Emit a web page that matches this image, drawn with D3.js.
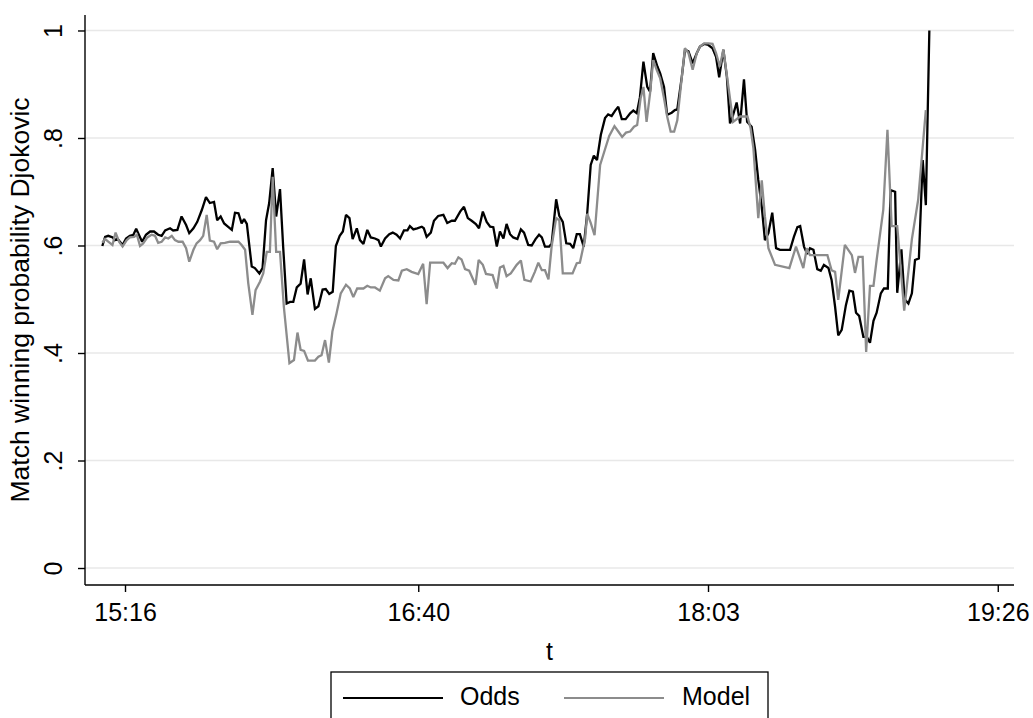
<!DOCTYPE html>
<html>
<head>
<meta charset="utf-8">
<script src="https://cdn.jsdelivr.net/npm/d3@7/dist/d3.min.js"></script>
<style>
  html, body { margin: 0; padding: 0; background: #fff; }
  svg { display: block; font-family: "Liberation Sans", Arial, Helvetica, sans-serif; }
</style>
</head>
<body>
<svg id="chart" width="1033" height="718"></svg>
<script>
// Time in minutes after 15:00, value = match winning probability
const odds = [[9.5,.599],[10.3,.616],[11.2,.618],[12.5,.615],[13.1,.610],[13.8,.613],[15.3,.601],[16.3,.613],[17.4,.618],[18.4,.620],[19.2,.631],[20.1,.618],[20.9,.607],[22.0,.620],[23.2,.626],[24.3,.626],[25.5,.620],[26.5,.618],[27.5,.628],[28.9,.632],[29.8,.628],[31.0,.629],[32.2,.654],[33.5,.638],[34.4,.623],[35.6,.632],[36.7,.644],[38.0,.666],[39.2,.690],[40.3,.679],[41.5,.681],[42.4,.647],[43.4,.654],[44.4,.641],[45.3,.636],[46.6,.629],[47.5,.661],[48.5,.660],[49.4,.641],[50.1,.649],[50.9,.640],[52.3,.561],[53.2,.558],[54.5,.548],[55.4,.558],[56.4,.647],[57.3,.679],[58.3,.744],[59.3,.654],[60.4,.705],[61.3,.598],[62.3,.492],[63.3,.495],[64.2,.495],[65.2,.522],[66.3,.529],[67.3,.574],[68.3,.509],[69.2,.539],[70.4,.482],[71.4,.487],[72.6,.518],[73.5,.519],[74.5,.510],[75.5,.514],[76.4,.599],[77.5,.618],[78.4,.626],[79.3,.657],[80.3,.651],[81.2,.612],[82.4,.632],[83.3,.610],[84.3,.603],[85.4,.629],[86.4,.615],[87.6,.613],[88.6,.610],[89.3,.598],[90.5,.613],[91.7,.621],[92.7,.624],[93.8,.620],[94.8,.613],[95.9,.628],[96.9,.628],[97.6,.636],[98.6,.630],[99.7,.632],[101.0,.635],[101.6,.632],[102.4,.616],[103.6,.624],[104.5,.646],[105.7,.655],[107.2,.657],[108.3,.642],[109.6,.646],[110.5,.646],[112.0,.663],[113.1,.672],[114.2,.651],[115.3,.646],[116.5,.640],[117.4,.632],[118.5,.663],[119.6,.644],[120.6,.635],[121.5,.634],[122.5,.598],[123.4,.626],[124.4,.613],[125.3,.640],[126.3,.621],[127.2,.615],[128.4,.612],[129.4,.630],[130.3,.624],[131.5,.601],[132.5,.600],[133.6,.612],[134.6,.620],[135.4,.615],[136.3,.598],[137.5,.598],[138.2,.603],[139.5,.686],[140.4,.655],[141.4,.644],[142.4,.604],[143.5,.603],[144.4,.595],[145.4,.621],[146.3,.621],[147.4,.598],[148.4,.660],[149.4,.750],[150.3,.767],[151.2,.759],[152.3,.806],[153.5,.837],[154.4,.844],[155.4,.841],[156.4,.851],[157.3,.858],[158.3,.835],[159.4,.835],[160.7,.846],[161.6,.851],[162.6,.846],[163.5,.876],[164.5,.942],[165.6,.895],[166.4,.886],[167.3,.958],[168.5,.933],[169.3,.920],[170.4,.895],[171.3,.843],[172.6,.847],[173.5,.852],[174.2,.853],[175.5,.914],[176.4,.964],[177.4,.961],[178.6,.939],[179.8,.958],[180.7,.970],[181.9,.975],[183.1,.973],[184.3,.967],[185.3,.951],[186.2,.913],[187.4,.964],[188.4,.914],[189.3,.827],[190.2,.843],[191.2,.866],[192.2,.827],[193.3,.909],[194.2,.830],[195.5,.821],[196.5,.778],[197.4,.722],[198.4,.672],[199.3,.610],[200.3,.623],[201.4,.661],[202.5,.595],[203.6,.592],[205.1,.592],[206.5,.592],[207.6,.616],[208.6,.634],[209.4,.636],[210.5,.598],[211.4,.584],[212.2,.595],[213.2,.592],[214.3,.556],[215.3,.553],[216.2,.564],[217.5,.558],[218.4,.536],[219.4,.486],[220.3,.433],[221.3,.443],[222.5,.489],[223.5,.516],[224.5,.514],[225.4,.475],[226.3,.469],[227.5,.430],[228.5,.430],[229.4,.419],[230.4,.460],[231.3,.475],[232.5,.511],[233.4,.520],[234.5,.520],[235.3,.703],[236.6,.700],[237.2,.512],[238.4,.593],[239.3,.500],[240.4,.492],[241.4,.511],[242.3,.573],[243.4,.576],[244.5,.759],[245.4,.675],[246.4,1.0]];

const model = [[9.5,.605],[10.3,.612],[11.2,.607],[12.4,.601],[13.3,.624],[14.3,.607],[15.3,.598],[16.5,.610],[17.4,.615],[18.6,.616],[19.4,.620],[20.3,.599],[21.2,.604],[22.4,.615],[23.6,.620],[24.6,.618],[25.5,.605],[26.5,.607],[27.5,.615],[28.4,.613],[29.4,.618],[30.3,.610],[31.3,.607],[32.5,.607],[33.5,.595],[34.4,.570],[35.6,.592],[36.5,.604],[37.5,.610],[38.4,.618],[39.4,.657],[40.3,.609],[41.5,.607],[42.4,.593],[43.4,.604],[44.6,.605],[46.1,.607],[48.5,.607],[49.4,.601],[50.4,.592],[51.3,.530],[52.5,.471],[53.4,.517],[54.7,.533],[55.6,.548],[56.6,.588],[57.5,.588],[58.3,.728],[59.3,.588],[60.4,.588],[61.5,.486],[63.1,.381],[64.4,.387],[65.4,.438],[66.3,.406],[67.3,.404],[68.4,.386],[70.4,.386],[71.4,.393],[72.3,.396],[73.3,.424],[74.4,.382],[75.4,.440],[76.6,.474],[77.8,.511],[79.3,.527],[80.4,.520],[81.4,.504],[82.5,.520],[84.3,.520],[85.4,.525],[86.4,.522],[87.6,.522],[89.0,.516],[90.5,.539],[91.4,.543],[92.9,.536],[94.3,.535],[95.3,.553],[96.7,.556],[98.1,.551],[100.0,.547],[101.4,.566],[102.4,.491],[103.4,.568],[107.2,.568],[108.4,.558],[109.6,.567],[110.5,.566],[111.5,.578],[112.4,.574],[113.4,.556],[114.6,.553],[116.4,.527],[117.3,.573],[118.5,.564],[119.4,.547],[121.3,.545],[122.5,.520],[123.4,.559],[124.4,.562],[125.3,.543],[126.5,.548],[128.2,.564],[129.4,.572],[130.4,.536],[132.2,.533],[133.4,.551],[134.4,.568],[135.4,.554],[136.3,.554],[137.3,.537],[138.2,.598],[139.5,.651],[140.4,.647],[141.4,.548],[144.2,.548],[145.4,.567],[146.3,.568],[147.8,.613],[148.4,.659],[149.4,.642],[150.5,.619],[152.1,.750],[153.5,.779],[154.7,.804],[156.2,.822],[157.3,.812],[158.4,.802],[159.5,.810],[160.7,.812],[161.8,.821],[162.7,.824],[163.7,.874],[164.5,.895],[165.4,.830],[166.4,.883],[167.3,.945],[168.3,.927],[169.3,.911],[170.4,.874],[171.3,.840],[172.3,.812],[173.3,.812],[174.2,.833],[175.2,.895],[176.4,.967],[177.4,.958],[178.6,.927],[179.8,.958],[180.7,.970],[181.9,.976],[183.1,.976],[184.3,.975],[185.3,.958],[186.4,.933],[187.4,.965],[188.4,.917],[190.2,.830],[192.2,.840],[194.3,.840],[195.2,.818],[196.0,.781],[197.4,.651],[198.4,.721],[199.3,.654],[200.3,.595],[202.2,.564],[206.3,.558],[208.2,.598],[210.3,.558],[211.3,.595],[212.2,.582],[217.2,.582],[218.4,.554],[219.4,.551],[220.3,.499],[222.2,.601],[224.2,.582],[225.1,.549],[226.1,.579],[227.3,.579],[228.3,.402],[229.4,.525],[230.4,.525],[231.3,.573],[233.2,.666],[234.4,.815],[235.6,.636],[237.2,.636],[239.2,.479],[241.4,.612],[243.2,.685],[245.4,.852]];

const xTicks = [16, 100, 183, 266];          // minutes after 15:00
const yTicks = [0, 0.2, 0.4, 0.6, 0.8, 1];
const yTickLabels = ["0", ".2", ".4", ".6", ".8", "1"];
const seriesNames = ["Odds", "Model"];
const seriesColors = ["#000000", "#8c8c8c"];

const svg = d3.select("#chart");
const plot = { left: 85, right: 1014, top: 15, bottom: 585 };
const FS = 25;

const x = d3.scaleLinear().domain([4.54, 270.65]).range([plot.left, plot.right]);
const y = d3.scaleLinear().domain([-0.0316, 1.0288]).range([plot.bottom, plot.top]);

const fmtTime = m => {
  const h = 15 + Math.floor(m / 60);
  const mm = m % 60;
  return h + ":" + (mm < 10 ? "0" : "") + mm;
};

// gridlines
svg.append("g").selectAll("line").data(yTicks).join("line")
  .attr("x1", plot.left).attr("x2", plot.right)
  .attr("y1", d => y(d)).attr("y2", d => y(d))
  .attr("stroke", "#e8e8e8").attr("stroke-width", 1.6);

// series
const line = d3.line().x(d => x(d[0])).y(d => y(d[1]));
[odds, model].forEach((s, i) => {
  svg.append("path").datum(s)
    .attr("fill", "none")
    .attr("stroke", seriesColors[i])
    .attr("stroke-width", 2.3)
    .attr("stroke-linejoin", "miter")
    .attr("stroke-miterlimit", 2)
    .attr("d", line);
});

// y axis
const yAxis = svg.append("g").attr("transform", `translate(${plot.left},0)`)
  .call(d3.axisLeft(y).tickValues(yTicks).tickSize(7).tickFormat((d, i) => yTickLabels[i]));
yAxis.select(".domain").attr("d", `M0,${plot.top}V${plot.bottom}`).attr("stroke-width", 1.4);
yAxis.selectAll(".tick line").attr("stroke-width", 1.4);
yAxis.selectAll(".tick text")
  .attr("font-size", FS).attr("font-family", null).attr("fill", "#000")
  .attr("x", null).attr("dy", null)
  .attr("text-anchor", "middle")
  .attr("transform", "translate(-23,0) rotate(-90)");

// x axis
const xAxis = svg.append("g").attr("transform", `translate(0,${plot.bottom})`)
  .call(d3.axisBottom(x).tickValues(xTicks).tickSize(7).tickFormat(fmtTime));
xAxis.select(".domain").attr("d", `M${plot.left},0H${plot.right}`).attr("stroke-width", 1.4);
xAxis.selectAll(".tick line").attr("stroke-width", 1.4);
xAxis.selectAll(".tick text")
  .attr("font-size", FS).attr("font-family", null).attr("fill", "#000")
  .attr("dy", null).attr("y", 36);

// axis titles
svg.append("text")
  .attr("x", (plot.left + plot.right) / 2).attr("y", 660)
  .attr("text-anchor", "middle").attr("font-size", FS).text("t");
svg.append("text")
  .attr("transform", `translate(29,${(plot.top + plot.bottom) / 2}) rotate(-90)`)
  .attr("text-anchor", "middle").attr("font-size", 26.5)
  .text("Match winning probability Djokovic");

// legend
const lg = svg.append("g");
lg.append("rect").attr("x", 331).attr("y", 672).attr("width", 437).attr("height", 60)
  .attr("fill", "#fff").attr("stroke", "#000").attr("stroke-width", 1.3);
const legendX = [[343, 460], [564, 682]];
seriesNames.forEach((n, i) => {
  lg.append("line").attr("x1", legendX[i][0]).attr("x2", legendX[i][0] + 100)
    .attr("y1", 698).attr("y2", 698)
    .attr("stroke", seriesColors[i]).attr("stroke-width", 2.2);
  lg.append("text").attr("x", legendX[i][1]).attr("y", 705)
    .attr("font-size", FS).text(n);
});
</script>
</body>
</html>
